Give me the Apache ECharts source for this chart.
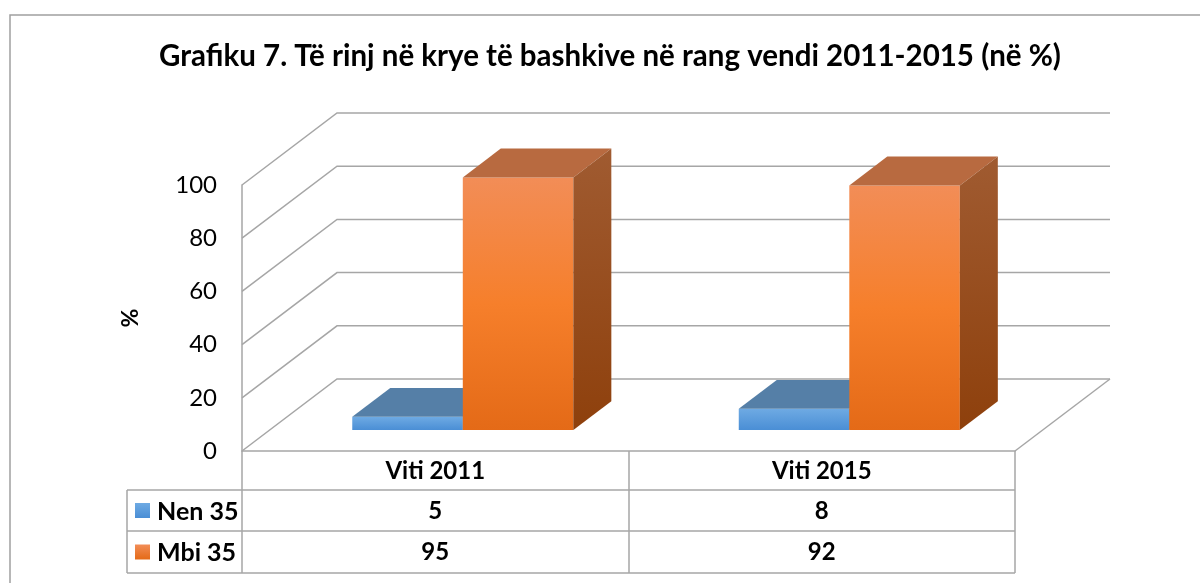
<!DOCTYPE html>
<html>
<head>
<meta charset="utf-8">
<script src="https://cdn.jsdelivr.net/npm/echarts@6/dist/echarts.min.js"></script>
<style>
  html, body { margin: 0; padding: 0; background: #fff; }
  #chart { width: 1200px; height: 583px; }
</style>
</head>
<body>
<div id="chart"></div>
<script>
  // data
  const categories = ["Viti 2011", "Viti 2015"];
  const seriesNames = ["Nen 35", "Mbi 35"];
  const nen35 = [5, 8];
  const mbi35 = [95, 92];
  const yTicks = [0, 20, 40, 60, 80, 100];

  const FONT = "Lato";
  const GRID = "#a6a6a6";
  const WALL = [95, -72];     // depth of the 3d box, px
  const FRONT_AT = 0.29;      // bars' front face, fraction of depth
  const BAR_DEPTH = 0.40;     // bars' own depth, fraction of depth
  const BAR_FRAC = 0.286;     // bar width, fraction of category band

  const grad = (a, b) => new echarts.graphic.LinearGradient(0, 0, 0, 1, [{ offset: 0, color: a }, { offset: 1, color: b }]);
  const grad3 = (a, m, b) => new echarts.graphic.LinearGradient(0, 0, 0, 1, [{ offset: 0, color: a }, { offset: 0.5, color: m }, { offset: 1, color: b }]);

  const STYLE = {
    blue: { front: grad("#6eaae3", "#4a8ed5"), top: "#557fa7", side: "#3f6c9a", key: grad("#6eaae3", "#4a8ed5") },
    orange: { front: grad3("#f28d57", "#f67f2b", "#e46a17"), top: "#b86a40", side: grad("#a05b31", "#8e400c"), key: grad("#f28d57", "#e46a17") },
  };

  /* walls + floor of the 3d box, one polyline per tick */
  function wallItem(params, api) {
    const cs = params.coordSys;
    const v = api.value(1);
    const y = api.coord([0, v])[1];
    const L = cs.x, R = cs.x + cs.width;
    const st = { stroke: GRID, lineWidth: 1.5, fill: null };
    const kids = [{ type: "polyline", shape: { points: [[L, y], [L + WALL[0], y + WALL[1]], [R + WALL[0], y + WALL[1]]] }, style: st }];
    if (v === 0) kids.push({ type: "line", shape: { x1: R, y1: y, x2: R + WALL[0], y2: y + WALL[1] }, style: st });
    return { type: "group", children: kids };
  }

  /* one 3d column: front, top and right faces */
  function barItem(slot, s) {
    return function (params, api) {
      const cat = api.value(0), v = api.value(1);
      const base = api.coord([cat, 0]);
      const topY = api.coord([cat, v])[1];
      const w = api.size([1, 0])[0] * BAR_FRAC;
      const ox = WALL[0] * FRONT_AT, oy = WALL[1] * FRONT_AT;
      const dx = WALL[0] * BAR_DEPTH, dy = WALL[1] * BAR_DEPTH;
      const x0 = base[0] + (slot - 1) * w + ox, x1 = x0 + w;
      const yb = base[1] + oy, yt = topY + oy;
      return {
        type: "group",
        children: [
          { type: "rect", shape: { x: x0, y: yt, width: w, height: yb - yt }, style: { fill: s.front } },
          { type: "polygon", shape: { points: [[x0, yt], [x1, yt], [x1 + dx, yt + dy], [x0 + dx, yt + dy]] }, style: { fill: s.top } },
          { type: "polygon", shape: { points: [[x1, yt], [x1 + dx, yt + dy], [x1 + dx, yb + dy], [x1, yb]] }, style: { fill: s.side } },
        ],
      };
    };
  }

  const valueAxis = (vals, offset) => ({
    type: "category", data: vals.map(String), position: "bottom", offset: offset, gridIndex: 0,
    axisLine: { show: false }, axisTick: { show: false },
    axisLabel: { fontFamily: FONT, fontSize: 24, fontWeight: "bold", color: "#000", margin: 8 },
  });

  // table layout (px)
  const TL = 127, TR = 1015, ROWS = [490, 531, 573];
  const tableLines = [
    { type: "line", shape: { x1: TL, y1: ROWS[0], x2: TL, y2: ROWS[2] }, style: { stroke: GRID, lineWidth: 1.5 } },
  ].concat(ROWS.map((y) => ({ type: "line", shape: { x1: TL, y1: y, x2: TR, y2: y }, style: { stroke: GRID, lineWidth: 1.5 } })));
  const keys = [STYLE.blue, STYLE.orange];
  const rowLabels = seriesNames.flatMap((n, i) => {
    const cy = (ROWS[i] + ROWS[i + 1]) / 2;
    return [
      { type: "rect", shape: { x: 135, y: cy - 7.5, width: 15, height: 15 }, style: { fill: keys[i].key } },
      { type: "text", x: 157, y: cy + 1, style: { text: n, font: "bold 25px " + FONT, fill: "#000", verticalAlign: "middle" } },
    ];
  });

  const chart = echarts.init(document.getElementById("chart"), null, { renderer: "canvas" });
  chart.setOption({
    animation: false,
    backgroundColor: "#fff",
    title: {
      text: "Grafiku 7. Të rinj në krye të bashkive në rang vendi 2011-2015 (në %)",
      left: 605, textAlign: "center", top: 36,
      textStyle: { fontFamily: FONT, fontSize: 29.5, fontWeight: "bold", color: "#000" },
    },
    grid: { left: 242, top: 185, width: 773, height: 266 },
    xAxis: [
      {
        type: "category", data: categories, boundaryGap: true,
        axisLine: { lineStyle: { color: GRID, width: 1.5 } },
        axisTick: { show: true, length: 122, lineStyle: { color: GRID, width: 1.5 } },
        axisLabel: { fontFamily: FONT, fontSize: 24, fontWeight: "bold", color: "#000", margin: 8 },
      },
      valueAxis(nen35, 40),
      valueAxis(mbi35, 81),
    ],
    yAxis: {
      type: "value", min: 0, max: 100, interval: 20,
      name: "%", nameLocation: "middle", nameRotate: 90, nameGap: 100,
      nameTextStyle: { fontFamily: FONT, fontSize: 23, fontWeight: "bold", color: "#000" },
      axisLine: { show: true, lineStyle: { color: GRID, width: 1.5 } },
      axisTick: { show: false },
      splitLine: { show: false },
      axisLabel: { fontFamily: FONT, fontSize: 24, color: "#000", margin: 25 },
    },
    series: [
      { type: "custom", name: "walls", silent: true, z: 1, renderItem: wallItem, data: yTicks.map((v) => [0, v]) },
      { type: "custom", name: seriesNames[0], z: 2, renderItem: barItem(0, STYLE.blue), data: nen35.map((v, i) => [i, v]) },
      { type: "custom", name: seriesNames[1], z: 3, renderItem: barItem(1, STYLE.orange), data: mbi35.map((v, i) => [i, v]) },
    ],
    graphic: [
      { type: "rect", shape: { x: 10, y: 15, width: 1300, height: 700 }, style: { fill: null, stroke: "#a0a0a0", lineWidth: 1.5 }, silent: true },
    ].concat(tableLines, rowLabels),
  });
</script>
</body>
</html>
